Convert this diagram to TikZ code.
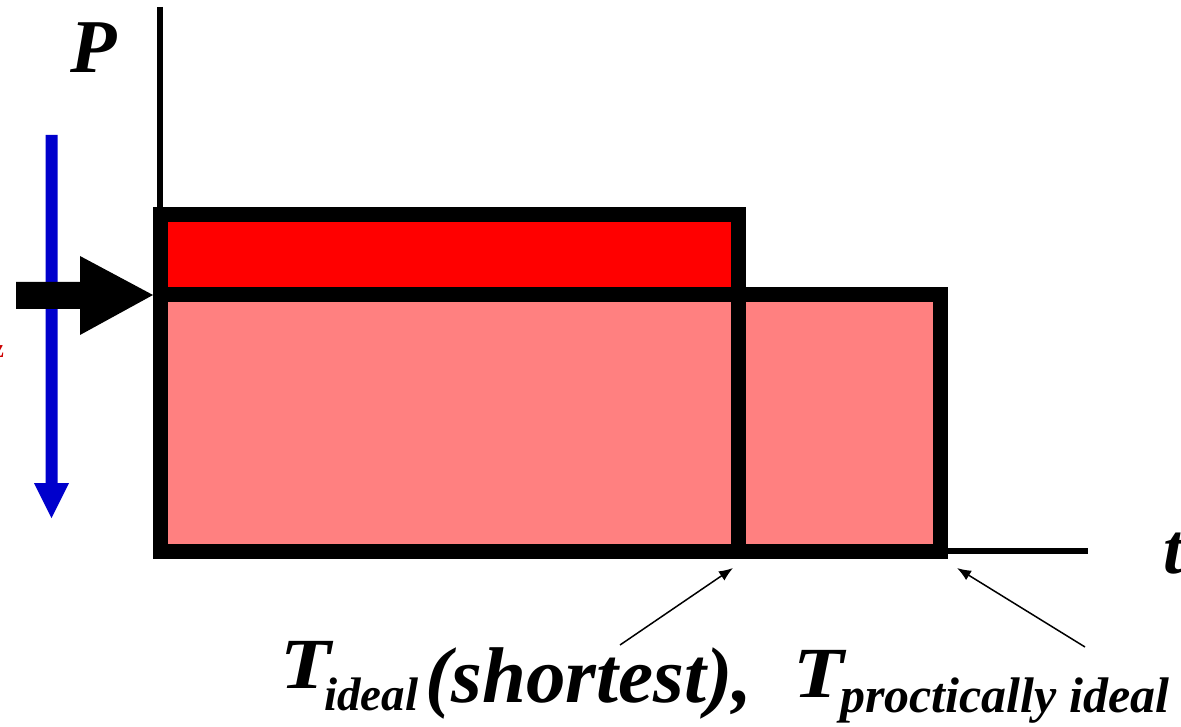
\documentclass[tikz,border=0pt]{standalone}
\usepackage{fontspec}
\setmainfont{Liberation Serif}
\usetikzlibrary{arrows.meta}
\definecolor{pinkfill}{RGB}{255,128,128}
\definecolor{redfill}{RGB}{255,0,0}
\definecolor{arrowblue}{RGB}{0,0,204}
\definecolor{labelred}{RGB}{204,0,0}
\tikzset{
  frame/.style={draw=black, line width=15pt, line join=miter},
  axisline/.style={draw=black, line width=6.5pt},
  biglabel/.style={inner sep=0pt, anchor=base west, font=\bfseries\itshape},
  pointer/.style={draw=black, line width=1.5pt, -{Latex[length=14pt,width=11pt]}},
}
\begin{document}
\begin{tikzpicture}[x=1pt,y=-1pt]
\useasboundingbox (0,0) rectangle (1181,727);
% axes
\coordinate (ytop) at (160,7);
\coordinate (ybot) at (160,215);
\draw[axisline] (ytop) -- (ybot);
\coordinate (xstart) at (940,551);
\coordinate (xend) at (1088,551);
\draw[axisline] (xstart) -- (xend);
% rectangles
\path[frame, fill=pinkfill] (160,295) rectangle (940,551);
\path[frame, fill=redfill] (160,215) rectangle (738,295);
\draw[frame] (738,295) -- (738,551);
\draw[frame] (160,551) -- (940,551);
\draw[frame] (160,215) -- (160,551);
% blue arrow
\fill[arrowblue] (45.5,135) -- (57.5,135) -- (57.5,483) -- (69,483) -- (51.5,518) -- (34,483) -- (45.5,483) -- cycle;
% black fat arrow
\fill[black] (16,282) -- (80,282) -- (80,256) -- (153,295) -- (80,335) -- (80,309) -- (16,309) -- cycle;
% labels
\node[biglabel, font=\bfseries\itshape\fontsize{76}{76}\selectfont] (P) at (70,73) {P};
\node[biglabel, font=\bfseries\itshape\fontsize{72}{72}\selectfont] (t) at (1163,573) {t};
\node[inner sep=0pt, anchor=base east, text=labelred, font=\bfseries\fontsize{26}{26}\selectfont] (frag) at (4,358) {z};
\node[biglabel, xscale=1.15, transform shape, font=\bfseries\itshape\fontsize{72}{72}\selectfont] (T1) at (280,688) {T};
\node[biglabel, font=\bfseries\itshape\fontsize{47}{47}\selectfont] (s1) at (324,710) {ideal};
\node[biglabel, font=\bfseries\itshape\fontsize{79}{79}\selectfont] (sh) at (425,702) {(shortest),};
\node[biglabel, xscale=1.15, transform shape, font=\bfseries\itshape\fontsize{72}{72}\selectfont] (T2) at (793,697) {T};
\node[biglabel, font=\bfseries\itshape\fontsize{50}{50}\selectfont] (s2) at (840,712) {proctically ideal};
% pointers
\coordinate (tip1) at (733,568);
\coordinate (tip2) at (957,568);
\draw[pointer] (620,645) -- (tip1);
\draw[pointer] (1085,647) -- (tip2);
\end{tikzpicture}
\end{document}
